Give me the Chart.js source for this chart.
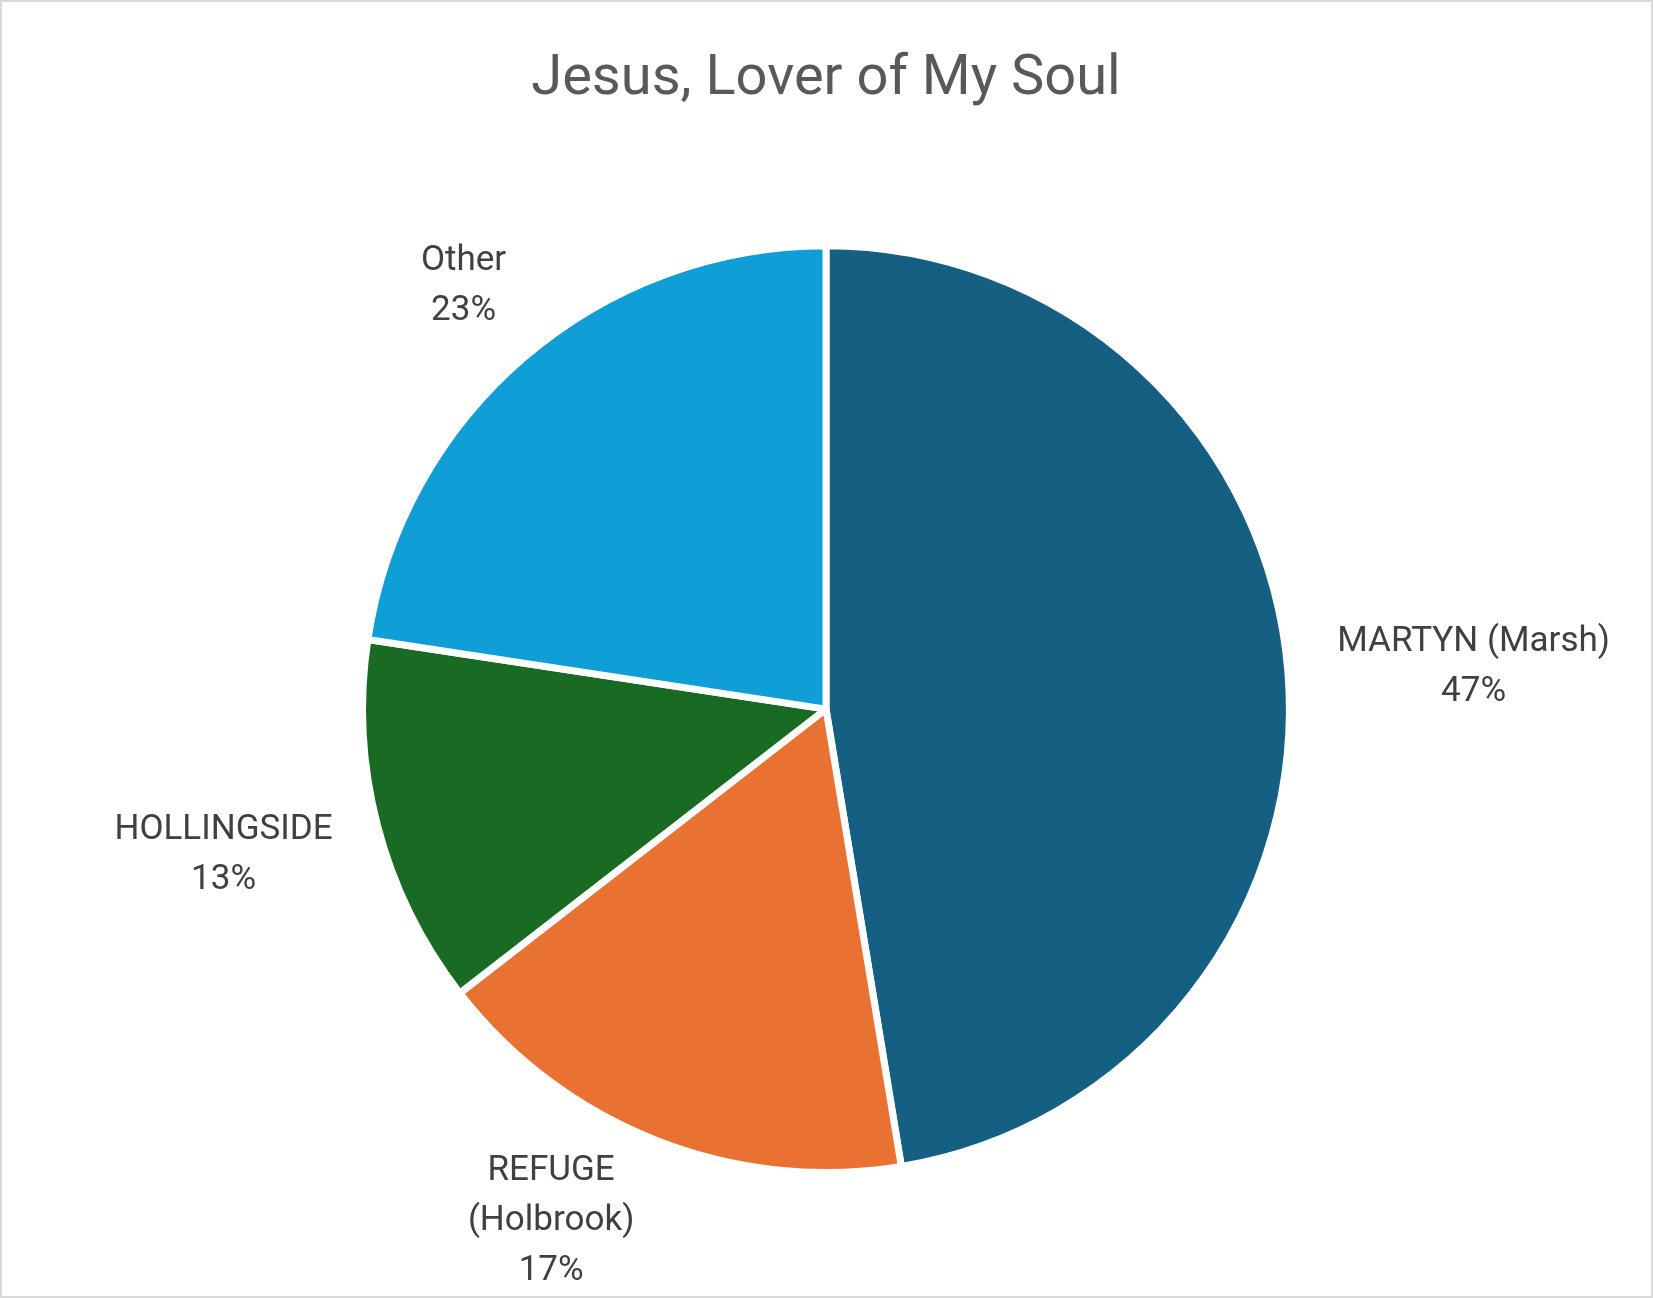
<!DOCTYPE html>
<html>
<head>
<meta charset="utf-8">
<script src="https://cdn.jsdelivr.net/npm/chart.js@4.4.1/dist/chart.umd.min.js"></script>
<style>
  html, body { margin: 0; padding: 0; background: #fff; }
  #wrap { position: relative; width: 1653px; height: 1298px; }
  #frame { position: absolute; left: 0; top: 0; right: 0; bottom: 0; border: 2px solid #d9d9d9; pointer-events: none; }
</style>
</head>
<body>
<div id="wrap">
  <canvas id="chart" width="1653" height="1298" style="width:1653px;height:1298px"></canvas>
  <div id="frame"></div>
</div>
<script>
// values; labels show the rounded share
const categories = [["MARTYN (Marsh)"], ["REFUGE", "(Holbrook)"], ["HOLLINGSIDE"], ["Other"]];
const shares = [47.4, 17.1, 12.9, 22.6];
const sliceColors = ["#156082", "#E97132", "#196B24", "#0F9ED5"];
const chartTitle = "Jesus, Lover of My Soul";

// Excel-style "outside end" data labels: category + percentage
const outsideLabels = {
  id: "outsideLabels",
  afterDatasetsDraw(chart) {
    const ctx = chart.ctx;
    const meta = chart.getDatasetMeta(0);
    const total = shares.reduce((a, b) => a + b, 0);
    const lineH = 50;
    const gap = 50;
    const minGap = 10;
    ctx.save();
    ctx.font = "35px Roboto";
    ctx.fillStyle = "#404040";
    ctx.textAlign = "center";
    ctx.textBaseline = "middle";
    meta.data.forEach((arc, i) => {
      const p = arc.getProps(["x", "y", "startAngle", "endAngle", "outerRadius"], true);
      const mid = (p.startAngle + p.endAngle) / 2;
      const dx = Math.cos(mid), dy = Math.sin(mid);
      const lines = [...categories[i], Math.round(shares[i] / total * 100) + "%"];
      const w = Math.max(...lines.map((l) => ctx.measureText(l).width));
      const h = lines.length * lineH;
      let cx = p.x + dx * (p.outerRadius + gap) + dx * w / 2;
      let cy = p.y + dy * (p.outerRadius + gap) + dy * h / 2;
      cy = Math.min(Math.max(cy, h / 2 + 8), chart.height - h / 2 - 6);
      // if pushed back toward the pie by the edge, slide sideways until clear
      const near = () => {
        const nx = Math.min(Math.max(p.x, cx - w / 2), cx + w / 2);
        const ny = Math.min(Math.max(p.y, cy - h / 2), cy + h / 2);
        return Math.hypot(nx - p.x, ny - p.y);
      };
      let guard = 0;
      while (near() < p.outerRadius + minGap && guard++ < 400) cx += dx < 0 ? -1 : 1;
      lines.forEach((l, k) => ctx.fillText(l, cx, cy - h / 2 + lineH * (k + 0.5) + 4));
    });
    ctx.restore();
  },
};

const ctx = document.getElementById("chart").getContext("2d");
const chart = new Chart(ctx, {
  type: "pie",
  data: {
    labels: categories,
    datasets: [
      {
        data: shares,
        backgroundColor: sliceColors,
        borderColor: "#ffffff",
        borderWidth: 7,
        hoverOffset: 0,
        offset: 0,
      },
    ],
  },
  options: {
    responsive: false,
    animation: false,
    layout: {
      padding: { left: 359, right: 360, top: 0, bottom: 122 },
    },
    plugins: {
      legend: { display: false },
      tooltip: { enabled: false },
      title: {
        display: true,
        text: chartTitle,
        color: "#595959",
        font: { family: "Roboto", size: 56, weight: "normal" },
        padding: { top: 46, bottom: 129 },
      },
    },
  },
  plugins: [outsideLabels],
});
</script>
</body>
</html>
